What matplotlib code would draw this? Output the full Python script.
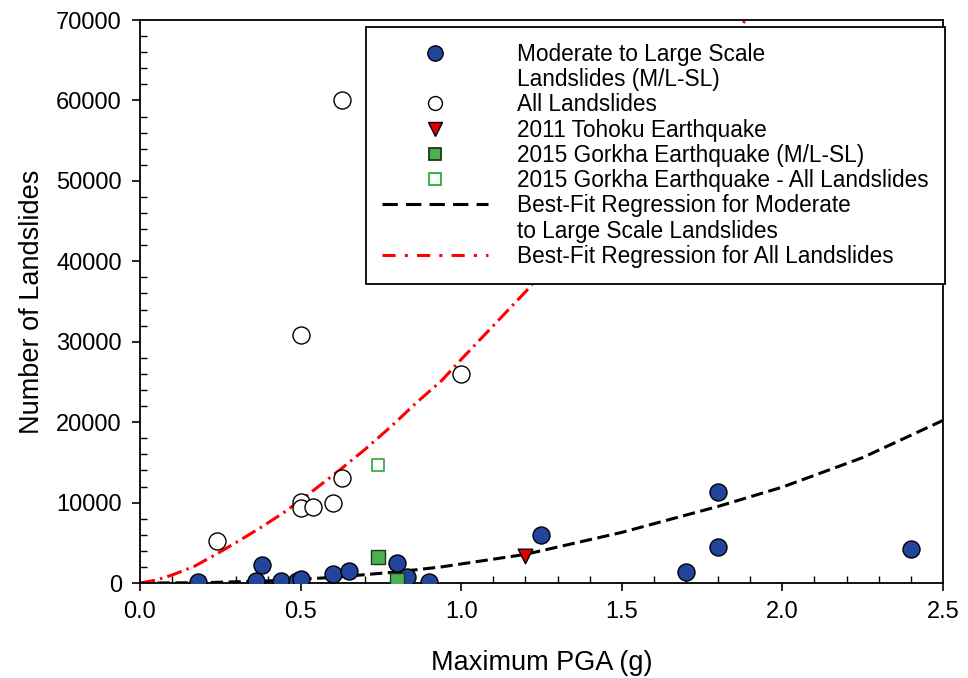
import matplotlib.pyplot as plt
from matplotlib.lines import Line2D
from matplotlib.ticker import MultipleLocator

plt.rcParams['font.family'] = ['Liberation Sans', 'DejaVu Sans']

# moderate to large scale landslides (M/L-SL)
ml_pga = [0.18, 0.36, 0.38, 0.44, 0.49, 0.50, 0.60, 0.65, 0.80, 0.83, 0.90, 1.25, 1.70, 1.80, 1.80, 2.40]
ml_count = [100, 250, 2200, 250, 250, 500, 1100, 1500, 2450, 800, 150, 6000, 1400, 11350, 4450, 4230]

# all landslides
all_pga = [0.24, 0.50, 0.50, 0.50, 0.54, 0.60, 0.63, 0.63, 1.00]
all_count = [5250, 30900, 10100, 9300, 9400, 10000, 13100, 60100, 26000]

# 2011 Tohoku
toh_pga = [1.20]
toh_count = [3400]

# 2015 Gorkha
gor_ml_pga = [0.74, 0.80]
gor_ml_count = [3250, 400]
gor_all_pga = [0.74]
gor_all_count = [14700]

# regression curves
fit_ml_x = [0.0, 0.2, 0.4, 0.6, 0.8, 0.935, 1.2, 1.5, 1.8, 2.0, 2.25, 2.5]
fit_ml_y = [0, 50, 270, 700, 1390, 1990, 3570, 6300, 9530, 11930, 15600, 20220]
fit_all_x = [0.0, 0.05, 0.1, 0.17, 0.24, 0.31, 0.38, 0.45, 0.52, 0.62, 0.7, 0.78, 0.86, 0.94, 1.0, 1.2, 1.4, 1.6, 1.8, 1.95]
fit_all_y = [0, 370, 1000, 2100, 3650, 5300, 7000, 8830, 10900, 14000, 16600, 19400, 22400, 25200, 27800, 36200, 45300, 55000, 65200, 73700]

blue = '#22449a'
dash_ml = (0, (4, 1.8))
dash_all = (0, (5, 1.7, 0.8, 1.7))

fig = plt.figure(figsize=(9.68, 6.78), dpi=100)
ax = fig.add_axes([0.1446, 0.140, 0.8295, 0.8305])

ax.plot(fit_ml_x, fit_ml_y, color='black', linestyle=dash_ml, linewidth=2.2, zorder=2)
ax.plot(fit_all_x, fit_all_y, color='#ff0000', linestyle=dash_all, linewidth=2.2, zorder=2)

ax.scatter(all_pga, all_count, s=150, facecolor='white', edgecolor='black', linewidth=1.0, zorder=3)
ax.scatter(gor_all_pga, gor_all_count, s=85, marker='s', facecolor='white', edgecolor='#3cb043', linewidth=1.3, zorder=3)
ax.scatter(ml_pga, ml_count, s=150, facecolor=blue, edgecolor='black', linewidth=1.0, zorder=4)
ax.scatter(gor_ml_pga, gor_ml_count, s=90, marker='s', facecolor='#4caf50', edgecolor='#1a3a1a', linewidth=1.0, zorder=4)
ax.scatter(toh_pga, toh_count, s=110, marker='v', facecolor='#e00000', edgecolor='black', linewidth=1.0, zorder=4)

ax.set_xlim(0, 2.5)
ax.set_ylim(0, 70000)
ax.xaxis.set_major_locator(MultipleLocator(0.5))
ax.xaxis.set_minor_locator(MultipleLocator(0.1))
ax.yaxis.set_major_locator(MultipleLocator(10000))
ax.yaxis.set_minor_locator(MultipleLocator(2000))
ax.xaxis.set_major_formatter(plt.FormatStrFormatter('%.1f'))
ax.tick_params(which='major', direction='out', length=6, width=1.2, labelsize=17, pad=7)
ax.tick_params(which='minor', direction='in', length=5, width=1.0)
for sp in ax.spines.values():
    sp.set_linewidth(1.3)

ax.set_xlabel('Maximum PGA (g)', fontsize=19.5, labelpad=19)
ax.set_ylabel('Number of Landslides', fontsize=19.5, labelpad=8)

# legend, continuation lines as blank entries
blank = Line2D([], [], linestyle='none')
handles = [
    Line2D([], [], linestyle='none', marker='o', markersize=11, markerfacecolor=blue, markeredgecolor='black'),
    blank,
    Line2D([], [], linestyle='none', marker='o', markersize=10, markerfacecolor='white', markeredgecolor='black'),
    Line2D([], [], linestyle='none', marker='v', markersize=10, markerfacecolor='#e00000', markeredgecolor='black'),
    Line2D([], [], linestyle='none', marker='s', markersize=9, markerfacecolor='#4caf50', markeredgecolor='#1a3a1a', markeredgewidth=1.3),
    Line2D([], [], linestyle='none', marker='s', markersize=8, markerfacecolor='white', markeredgecolor='#3cb043', markeredgewidth=1.4),
    Line2D([], [], color='black', linestyle=(0, (5, 2.7)), linewidth=2.2),
    blank,
    Line2D([], [], color='#ff0000', linestyle=(0, (4.3, 3, 1, 3)), linewidth=2.2),
]
labels = [
    'Moderate to Large Scale',
    'Landslides (M/L-SL)',
    'All Landslides',
    '2011 Tohoku Earthquake',
    '2015 Gorkha Earthquake (M/L-SL)',
    '2015 Gorkha Earthquake - All Landslides',
    'Best-Fit Regression for Moderate',
    'to Large Scale Landslides',
    'Best-Fit Regression for All Landslides',
]
leg = ax.legend(handles, labels, loc='upper right', bbox_to_anchor=(1.0025, 0.9876),
                fontsize=16.3, frameon=True, fancybox=False, framealpha=1,
                edgecolor='black', handlelength=4.7, handletextpad=1.3,
                labelspacing=0.1, borderpad=0.7, borderaxespad=0)
leg.get_frame().set_linewidth(1.3)

fig.savefig('out.png', dpi=100)
